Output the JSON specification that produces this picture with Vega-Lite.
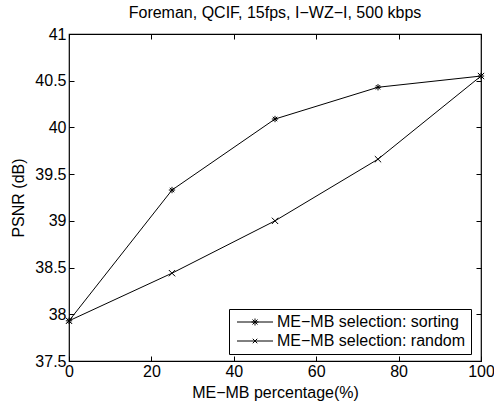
{
  "$schema": "https://vega.github.io/schema/vega-lite/v6.json",
  "width": 412,
  "height": 327,
  "autosize": "none",
  "padding": {"left": 69, "top": 34, "right": 13, "bottom": 42},
  "background": "white",
  "config": {
    "font": "Liberation Sans",
    "view": {"stroke": "#000", "strokeWidth": 1.2},
    "axis": {"grid": false, "domain": false, "labelFont": "Liberation Sans", "labelFontSize": 16, "labelColor": "#000", "titleFont": "Liberation Sans", "titleFontSize": 16, "titleFontWeight": "normal", "titleColor": "#000", "tickColor": "#000", "tickSize": 5, "tickWidth": 1}
  },
  "title": {"text": "Foreman, QCIF, 15fps, I−WZ−I, 500 kbps", "font": "Liberation Sans", "fontSize": 16, "fontWeight": "normal", "color": "#000", "offset": 5, "anchor": "middle"},
  "data": {"values": [
    {"pct": 0, "psnr": 37.93, "series": "ME−MB selection: sorting"},
    {"pct": 25, "psnr": 39.33, "series": "ME−MB selection: sorting"},
    {"pct": 50, "psnr": 40.09, "series": "ME−MB selection: sorting"},
    {"pct": 75, "psnr": 40.43, "series": "ME−MB selection: sorting"},
    {"pct": 100, "psnr": 40.55, "series": "ME−MB selection: sorting"},
    {"pct": 0, "psnr": 37.93, "series": "ME−MB selection: random"},
    {"pct": 25, "psnr": 38.44, "series": "ME−MB selection: random"},
    {"pct": 50, "psnr": 39.0, "series": "ME−MB selection: random"},
    {"pct": 75, "psnr": 39.66, "series": "ME−MB selection: random"},
    {"pct": 100, "psnr": 40.55, "series": "ME−MB selection: random"}
  ]},
  "layer": [
    {
      "mark": {"type": "line", "color": "#000", "strokeWidth": 1},
      "encoding": {
        "x": {"field": "pct", "type": "quantitative", "scale": {"domain": [0, 100], "nice": false, "zero": false}, "axis": {"orient": "bottom", "values": [0, 20, 40, 60, 80, 100], "ticks": false, "title": "ME−MB percentage(%)", "labelPadding": 2, "titlePadding": 5, "labelFlush": false}},
        "y": {"field": "psnr", "type": "quantitative", "scale": {"domain": [37.5, 41], "nice": false, "zero": false}, "axis": {"orient": "left", "values": [37.5, 38, 38.5, 39, 39.5, 40, 40.5, 41], "format": ".1~f", "ticks": false, "title": "PSNR (dB)", "labelPadding": 3, "titlePadding": 8}},
        "detail": {"field": "series"}
      }
    },
    {
      "mark": {"type": "point", "opacity": 0},
      "encoding": {
        "x": {"field": "pct", "type": "quantitative", "axis": {"orient": "bottom", "values": [0, 20, 40, 60, 80, 100], "labels": false, "title": null, "offset": -5}},
        "y": {"field": "psnr", "type": "quantitative", "axis": {"orient": "left", "values": [37.5, 38, 38.5, 39, 39.5, 40, 40.5, 41], "labels": false, "title": null, "offset": -5}}
      }
    },
    {
      "mark": {"type": "point", "filled": false, "stroke": "#000", "strokeWidth": 1, "opacity": 1},
      "encoding": {
        "x": {"field": "pct", "type": "quantitative", "axis": {"orient": "top", "values": [0, 20, 40, 60, 80, 100], "labels": false, "title": null, "offset": -5}},
        "y": {"field": "psnr", "type": "quantitative", "axis": {"orient": "right", "values": [37.5, 38, 38.5, 39, 39.5, 40, 40.5, 41], "labels": false, "title": null, "offset": -5}},
        "shape": {
          "field": "series",
          "type": "nominal",
          "scale": {"domain": ["ME−MB selection: sorting", "ME−MB selection: random"], "range": ["M-1,0H1M0,-1V1M-0.7,-0.7L0.7,0.7M-0.7,0.7L0.7,-0.7", "M-1,-1L1,1M-1,1L1,-1"]},
          "legend": null
        },
        "size": {"value": 40}
      }
    },
    {
      "mark": {"type": "point", "filled": false, "stroke": "#000", "strokeWidth": 1, "opacity": 0},
      "encoding": {
        "x": {"field": "pct", "type": "quantitative", "axis": null},
        "y": {"field": "psnr", "type": "quantitative", "axis": null},
        "shape": {
          "field": "series",
          "type": "nominal",
          "scale": {"domain": ["ME−MB selection: sorting", "ME−MB selection: random"], "range": ["M-3.6,0H3.6M0,-0.7V0.7M-0.7,0H0.7M-0.5,-0.5L0.5,0.5M-0.5,0.5L0.5,-0.5", "M-3.6,0H3.6M-0.45,-0.45L0.45,0.45M-0.45,0.45L0.45,-0.45"]},
          "legend": {
            "title": null,
            "orient": "none",
            "legendX": 160,
            "legendY": 275,
            "direction": "vertical",
            "padding": 5,
            "strokeColor": "#000",
            "fillColor": "#fff",
            "cornerRadius": 0,
            "symbolSize": 100,
            "symbolOpacity": 1,
            "symbolFillColor": "transparent",
            "symbolStrokeColor": "#000",
            "symbolStrokeWidth": 1,
            "symbolOffset": 13,
            "labelOffset": 14,
            "labelFont": "Liberation Sans",
            "labelFontSize": 16,
            "labelColor": "#000",
            "labelLimit": 400,
            "rowPadding": 3
          }
        },
        "size": {"value": 100}
      }
    }
  ],
  "resolve": {"axis": {"x": "independent", "y": "independent"}, "scale": {"shape": "independent"}, "legend": {"shape": "independent"}}
}
